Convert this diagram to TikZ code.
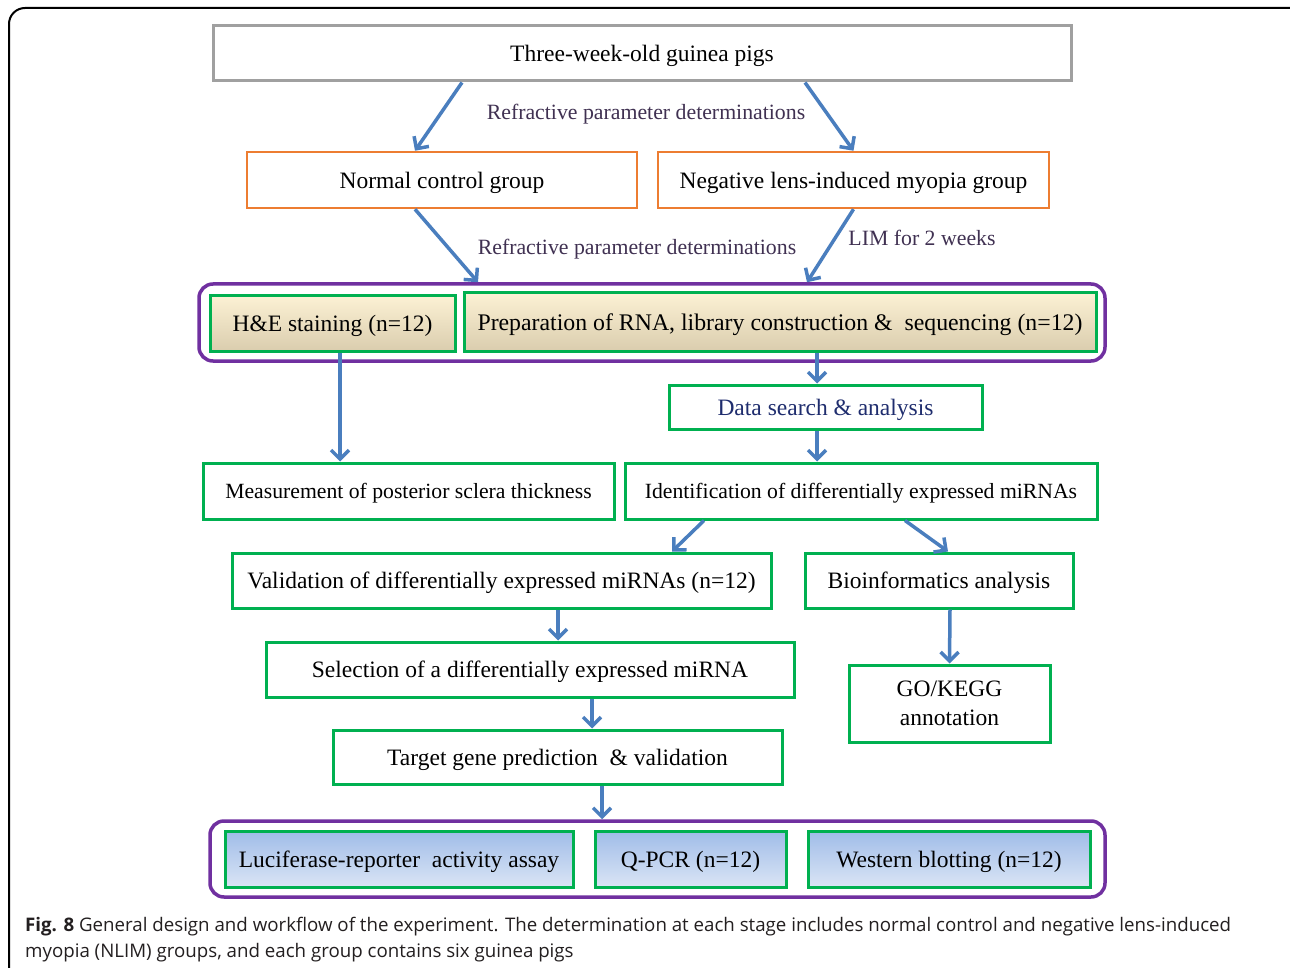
\documentclass[tikz,border=0pt]{standalone}
\usepackage{fontspec}
\setmainfont{Liberation Serif}
\newfontfamily\capfont{Open Sans}
\usepackage{xcolor}
\usetikzlibrary{arrows.meta}

\definecolor{flowblue}{RGB}{74,126,190}
\definecolor{boxgreen}{RGB}{0,176,80}
\definecolor{boxorange}{RGB}{237,125,49}
\definecolor{boxgray}{RGB}{160,160,160}
\definecolor{grppurple}{RGB}{112,48,160}
\definecolor{labtext}{RGB}{64,49,82}
\definecolor{navytext}{RGB}{31,45,110}
\definecolor{captext}{RGB}{35,31,32}
\definecolor{beigetop}{RGB}{252,241,212}
\definecolor{beigebot}{RGB}{218,205,174}
\definecolor{bluetop}{RGB}{160,188,232}
\definecolor{bluebot}{RGB}{218,229,245}

\tikzset{
	box/.style={draw=boxgreen, line width=3pt, inner sep=0pt, align=center,
		text depth=0pt, font=\fontsize{23.5}{29}\selectfont},
	groupbox/.style={draw=boxorange, line width=2.5pt, inner sep=0pt,
		text depth=0pt, font=\fontsize{23.5}{29}\selectfont},
	frame/.style={draw=grppurple, line width=3.5pt, rounded corners=14pt, inner sep=0pt},
	beige/.style={box, top color=beigetop, bottom color=beigebot},
	bluish/.style={box, top color=bluetop, bottom color=bluebot},
	flow/.style={draw=flowblue, line width=3.5pt, -{Straight Barb[length=9pt,width=18pt]}},
	lab/.style={text=labtext, font=\fontsize{21.8}{26}\selectfont, inner sep=0pt},
	captionline/.style={anchor=base west, inner sep=0pt, text=captext, font=\capfont\fontsize{18.7}{26}\selectfont}
}

\begin{document}
\begin{tikzpicture}[x=1pt,y=-1pt]
			\useasboundingbox (0,0) rectangle (1290,968);
			\clip (0,0) rectangle (1290,968);
			\fill[white] (0,0) rectangle (1290,968);
			% Outer frame
			\draw[line width=2pt, rounded corners=16pt] (9,8) rectangle (1330,1010);
			% Groups
			\node[frame, minimum width=906pt, minimum height=77pt] (grp1) at (652,322.5) {};
			\node[frame, minimum width=895pt, minimum height=76pt] (grp2) at (657.5,859) {};
			% Boxes
			\node[box, draw=boxgray, minimum width=858pt, minimum height=55pt] (top) at (642,53.5) {Three-week-old guinea pigs};
			\node[groupbox, minimum width=390pt, minimum height=56pt] (nc) at (442,180) {Normal control group};
			\node[groupbox, minimum width=391pt, minimum height=56pt] (nl) at (853.5,180) {Negative lens-induced myopia group};
			\node[beige, minimum width=245pt, minimum height=55pt] (he) at (332.5,323.5) {H\&E staining (n=12)};
			\node[beige, font=\fontsize{23.8}{29}\selectfont, minimum width=632pt, minimum height=58pt] (prep) at (780,322) {Preparation of RNA, library construction \&\ \ sequencing (n=12)};
			\node[box, text=navytext, minimum width=313pt, minimum height=44pt] (data) at (825.5,407) {Data search \& analysis};
			\node[box, font=\fontsize{21.7}{28}\selectfont, minimum width=411pt, minimum height=56pt] (meas) at (408.5,491) {Measurement of posterior sclera thickness};
			\node[box, font=\fontsize{21.7}{28}\selectfont, minimum width=472pt, minimum height=56pt] (ident) at (861,491) {Identification of differentially expressed miRNAs};
			\node[box, minimum width=539pt, minimum height=55pt] (valid) at (501.5,580.5) {Validation of differentially expressed miRNAs (n=12)};
			\node[box, minimum width=268pt, minimum height=55pt] (bio) at (939,580.5) {Bioinformatics analysis};
			\node[box, minimum width=528pt, minimum height=55pt] (sel) at (530,669.5) {Selection of a differentially expressed miRNA};
			\node[box, minimum width=201pt, minimum height=77pt] (go) at (949.5,703.5) {GO/KEGG\\annotation};
			\node[box, minimum width=449pt, minimum height=54pt] (tgt) at (557.5,757) {Target gene prediction\ \ \& validation};
			\node[bluish, minimum width=348pt, minimum height=56pt] (luc) at (399,859) {Luciferase-reporter\ \ activity assay};
			\node[bluish, minimum width=191pt, minimum height=56pt] (qpcr) at (690.5,859) {Q-PCR (n=12)};
			\node[bluish, minimum width=282pt, minimum height=56pt] (wb) at (949,859) {Western blotting (n=12)};
			% Labels
			\node[lab] (lab1) at (646,114) {Refractive parameter determinations};
			\node[lab] (lab2) at (637,249) {Refractive parameter determinations};
			\node[lab] (lab3) at (922,238) {LIM for 2 weeks};
			% Arrows
			\draw[flow] ([xshift=-180pt]top.south) -- ([xshift=-27pt]nc.north);
			\draw[flow] ([xshift=163pt]top.south) -- (nl.north);
			\draw[flow] ([xshift=-27pt]nc.south) -- ([xshift=-174pt]grp1.north);
			\draw[flow] (nl.south) -- ([xshift=155pt]grp1.north);
			\draw[flow] ([xshift=37pt]prep.south) -- ([xshift=-8.5pt]data.north);
			\draw[flow] ([xshift=-8.5pt]data.south) -- ([xshift=-44pt]ident.north);
			\draw[flow] ([xshift=7.5pt]he.south) -- ([xshift=-68.5pt]meas.north);
			\draw[flow] ([xshift=-157pt]ident.south) -- ([xshift=170.5pt]valid.north);
			\draw[flow] ([xshift=44pt]ident.south) -- ([xshift=9pt]bio.north);
			\draw[flow] ([xshift=56.5pt]valid.south) -- ([xshift=28pt]sel.north);
			\draw[flow] ([xshift=11pt]bio.south) -- (go.north);
			\draw[flow] ([xshift=62pt]sel.south) -- ([xshift=34.5pt]tgt.north);
			\draw[flow] ([xshift=44.5pt]tgt.south) -- ([xshift=-55.5pt]grp2.north);
			% Caption
			\node[captionline] (cap1) at (25,931) {\textbf{Fig. 8} General design and workflow of the experiment. The determination at each stage includes normal control and negative lens-induced};
			\node[captionline] (cap2) at (25,957) {myopia (NLIM) groups, and each group contains six guinea pigs};
		\end{tikzpicture}
\end{document}
